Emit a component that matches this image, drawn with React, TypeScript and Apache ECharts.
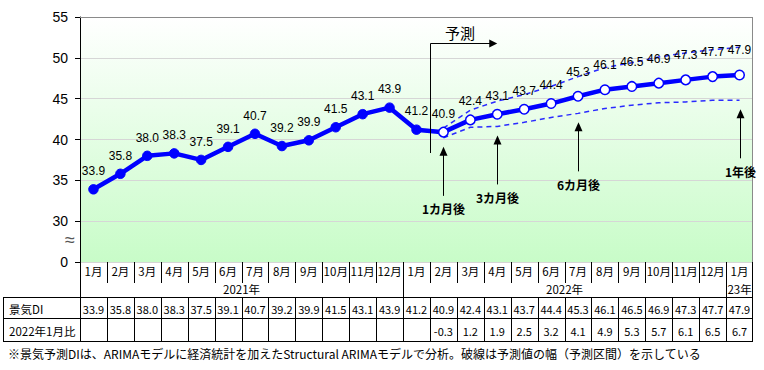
import React, { useEffect, useRef } from "react";
import * as echarts from "echarts";

// ---- data ----
const months = ["1月", "2月", "3月", "4月", "5月", "6月", "7月", "8月", "9月", "10月", "11月", "12月",
  "1月", "2月", "3月", "4月", "5月", "6月", "7月", "8月", "9月", "10月", "11月", "12月", "1月"];
const yearLabels = ["2021年", "2022年", "23年"];
const yearSpans = [12, 12, 1];
const diValues = [33.9, 35.8, 38.0, 38.3, 37.5, 39.1, 40.7, 39.2, 39.9, 41.5, 43.1, 43.9,
  41.2, 40.9, 42.4, 43.1, 43.7, 44.4, 45.3, 46.1, 46.5, 46.9, 47.3, 47.7, 47.9];
const ratioValues: (string | null)[] = [null, null, null, null, null, null, null, null, null, null, null, null, null,
  "-0.3", "1.2", "1.9", "2.5", "3.2", "4.1", "4.9", "5.3", "5.7", "6.1", "6.5", "6.7"];
const upperBand: (number | null)[] = [null, null, null, null, null, null, null, null, null, null, null, null, null,
  41.4, 43.6, 44.7, 45.5, 46.5, 47.7, 48.8, 49.4, 50.1, 50.6, 51.0, 51.3];
const lowerBand: (number | null)[] = [null, null, null, null, null, null, null, null, null, null, null, null, null,
  40.2, 41.5, 41.6, 42.1, 42.7, 43.2, 43.8, 44.2, 44.5, 44.6, 44.8, 44.8];
const forecastStart = 13;
const rowLabels = ["景気DI", "2022年1月比"];
const arrowIdx = [13, 15, 18, 24];
const arrowLabels = ["1カ月後", "3カ月後", "6カ月後", "1年後"];
const footnote = "※景気予測DIは、ARIMAモデルに経済統計を加えたStructural ARIMAモデルで分析。破線は予測値の幅（予測区間）を示している";

const JP = '"Noto Sans CJK JP", "Noto Sans", sans-serif';
const LAT = '"Liberation Sans", Arial, sans-serif';
const BLUE = "#0000ff";

export default function App() {
  const ref = useRef<HTMLDivElement>(null);
  useEffect(() => {
    document.body.style.margin = "0";
    const chart = echarts.init(ref.current!, null, { renderer: "svg" });
    const option: any = {
      animation: false,
      grid: {
        left: 80, right: 11, top: 17, bottom: 108, show: true, borderWidth: 0,
        backgroundColor: new echarts.graphic.LinearGradient(0, 0, 0, 1, [
          { offset: 0, color: "#ffffff" },
          { offset: 1, color: "#c8fcc8" },
        ]),
      },
      xAxis: {
        type: "category", data: months, boundaryGap: true,
        axisLine: { show: false }, axisTick: { show: false }, splitLine: { show: false },
        axisLabel: { interval: 0, fontSize: 11.5, color: "#000", fontFamily: JP, margin: 3 },
      },
      yAxis: {
        type: "value", min: 25, max: 55, interval: 5,
        axisLine: { show: true, lineStyle: { color: "#000", width: 1 } },
        axisTick: { show: true, length: 5, lineStyle: { color: "#000" } },
        axisLabel: {
          fontSize: 14, color: "#000", fontFamily: LAT, margin: 12,
          formatter: (v: number) => (v === 25 ? "0" : String(v)),
        },
        splitLine: { show: true, lineStyle: { color: "#d6d6d6", width: 1 } },
      },
      series: [
        {
          type: "line", name: "upper", data: upperBand, symbol: "none", connectNulls: false,
          lineStyle: { color: "#2a2aff", width: 1.5, type: [5, 4] }, z: 2, silent: true,
        },
        {
          type: "line", name: "lower", data: lowerBand, symbol: "none", connectNulls: false,
          lineStyle: { color: "#2a2aff", width: 1.5, type: [5, 4] }, z: 2, silent: true,
        },
        {
          type: "line", name: "DI", symbol: "circle", symbolSize: 9.5, z: 3,
          lineStyle: { color: BLUE, width: 4.5 },
          data: diValues.map((v, i) => ({
            value: v,
            itemStyle: i >= forecastStart
              ? { color: "#ffffff", borderColor: BLUE, borderWidth: 1.5 }
              : { color: BLUE, borderColor: BLUE, borderWidth: 1 },
            label: { distance: i >= 18 ? 13 : 7 },
          })),
          label: {
            show: true, position: "top", fontSize: 12, color: "#000", fontFamily: LAT,
            formatter: (p: any) => Number(p.value).toFixed(1),
          },
        },
      ],
    };
    chart.setOption(option);

    const colX = (i: number) => chart.convertToPixel({ xAxisIndex: 0 }, i) as number;
    const px = (i: number, v: number) => chart.convertToPixel({ gridIndex: 0 }, [i, v]) as number[];
    const w = colX(1) - colX(0);
    const left = colX(0) - w / 2;
    const right = colX(months.length - 1) + w / 2;
    const yTop = px(0, 55)[1];
    const yBot = px(0, 25)[1];
    const monthRowB = yBot + 21;
    const yearRowB = yBot + 35;
    const diRowB = yBot + 56;
    const ratioRowB = yBot + 79;
    const tableLeft = 3;
    const bx = (k: number) => Math.round(left + k * w) + 0.5;

    const g: any[] = [];
    const line = (x1: number, y1: number, x2: number, y2: number, stroke = "#000") =>
      g.push({ type: "line", silent: true, z: 50, shape: { x1, y1, x2, y2 }, style: { stroke, lineWidth: 1 } });
    const text = (t: string, x: number, y: number, extra: any = {}) =>
      g.push({
        type: "text", silent: true, z: 60, x, y,
        style: { text: t, fill: "#000", fontSize: 12, fontFamily: JP, textAlign: "center", textVerticalAlign: "middle", ...extra },
      });

    // plot borders
    line(left, Math.round(yTop) + 0.5, right, Math.round(yTop) + 0.5, "#8a8a8a");
    line(Math.round(right) - 0.5, yTop, Math.round(right) - 0.5, yBot, "#8a8a8a");
    // axis line continued through table
    line(Math.round(left) + 0.5, yBot, Math.round(left) + 0.5, ratioRowB);
    line(Math.round(right) - 0.5, yBot, Math.round(right) - 0.5, ratioRowB);
    // month row separators
    for (let k = 1; k < months.length; k++) line(bx(k), yBot, bx(k), monthRowB);
    // year row separators + labels
    let acc = 0;
    yearSpans.forEach((s, j) => {
      const x0 = left + acc * w;
      const x1 = left + (acc + s) * w;
      text(yearLabels[j], (x0 + x1) / 2, yBot + 27, { fontSize: 11.5 });
      acc += s;
      if (acc < months.length) line(bx(acc), monthRowB, bx(acc), yearRowB);
    });
    // horizontal rules
    [yearRowB, diRowB, ratioRowB].forEach((y) => line(tableLeft, Math.round(y) + 0.5, right, Math.round(y) + 0.5));
    line(tableLeft + 0.5, yearRowB, tableLeft + 0.5, ratioRowB);
    for (let k = 1; k < months.length; k++) line(bx(k), yearRowB, bx(k), ratioRowB);
    // row labels and values
    text(rowLabels[0], 9, (yearRowB + diRowB) / 2 + 1, { textAlign: "left", fontSize: 11.5 });
    text(rowLabels[1], 9, (diRowB + ratioRowB) / 2 + 1, { textAlign: "left", fontSize: 11.5 });
    diValues.forEach((v, i) => text(v.toFixed(1), colX(i), (yearRowB + diRowB) / 2 + 1, { fontSize: 11 }));
    ratioValues.forEach((v, i) => { if (v !== null) text(v, colX(i), (diRowB + ratioRowB) / 2 + 1, { fontSize: 11 }); });

    // broken-axis mark
    text("≈", left - 10, yBot - 22, { fontSize: 18, fill: "#555", fontFamily: LAT });

    // forecast arrow
    const fx = Math.round((colX(forecastStart - 1) + colX(forecastStart)) / 2) + 0.5;
    const fTop = 43.5;
    const fTip = colX(15);
    line(fx, 153, fx, fTop);
    line(fx, fTop, fTip - 6, fTop);
    g.push({ type: "polygon", silent: true, z: 55, shape: { points: [[fTip, fTop], [fTip - 8, fTop - 4], [fTip - 8, fTop + 4]] }, style: { fill: "#000" } });
    text("予測", (fx + fTip) / 2 - 4, 32, { fontSize: 15 });

    // horizon arrows
    arrowIdx.forEach((idx, j) => {
      const x = Math.round(colX(idx)) + 0.5;
      const tipY = px(idx, lowerBand[idx] as number)[1] + 9;
      const len = 49;
      line(x, tipY + 6, x, tipY + len);
      g.push({ type: "polygon", silent: true, z: 55, shape: { points: [[x, tipY], [x - 4, tipY + 9], [x + 4, tipY + 9]] }, style: { fill: "#000" } });
      text(arrowLabels[j], x, tipY + len + 13, { fontWeight: "bold" });
    });

    // footnote
    text(footnote, 8, ratioRowB + 12, { textAlign: "left" });

    chart.setOption({ graphic: { elements: g } });
    return () => chart.dispose();
  }, []);
  return <div ref={ref} style={{ position: "absolute", left: 0, top: 0, width: 764, height: 370 }} />;
}
